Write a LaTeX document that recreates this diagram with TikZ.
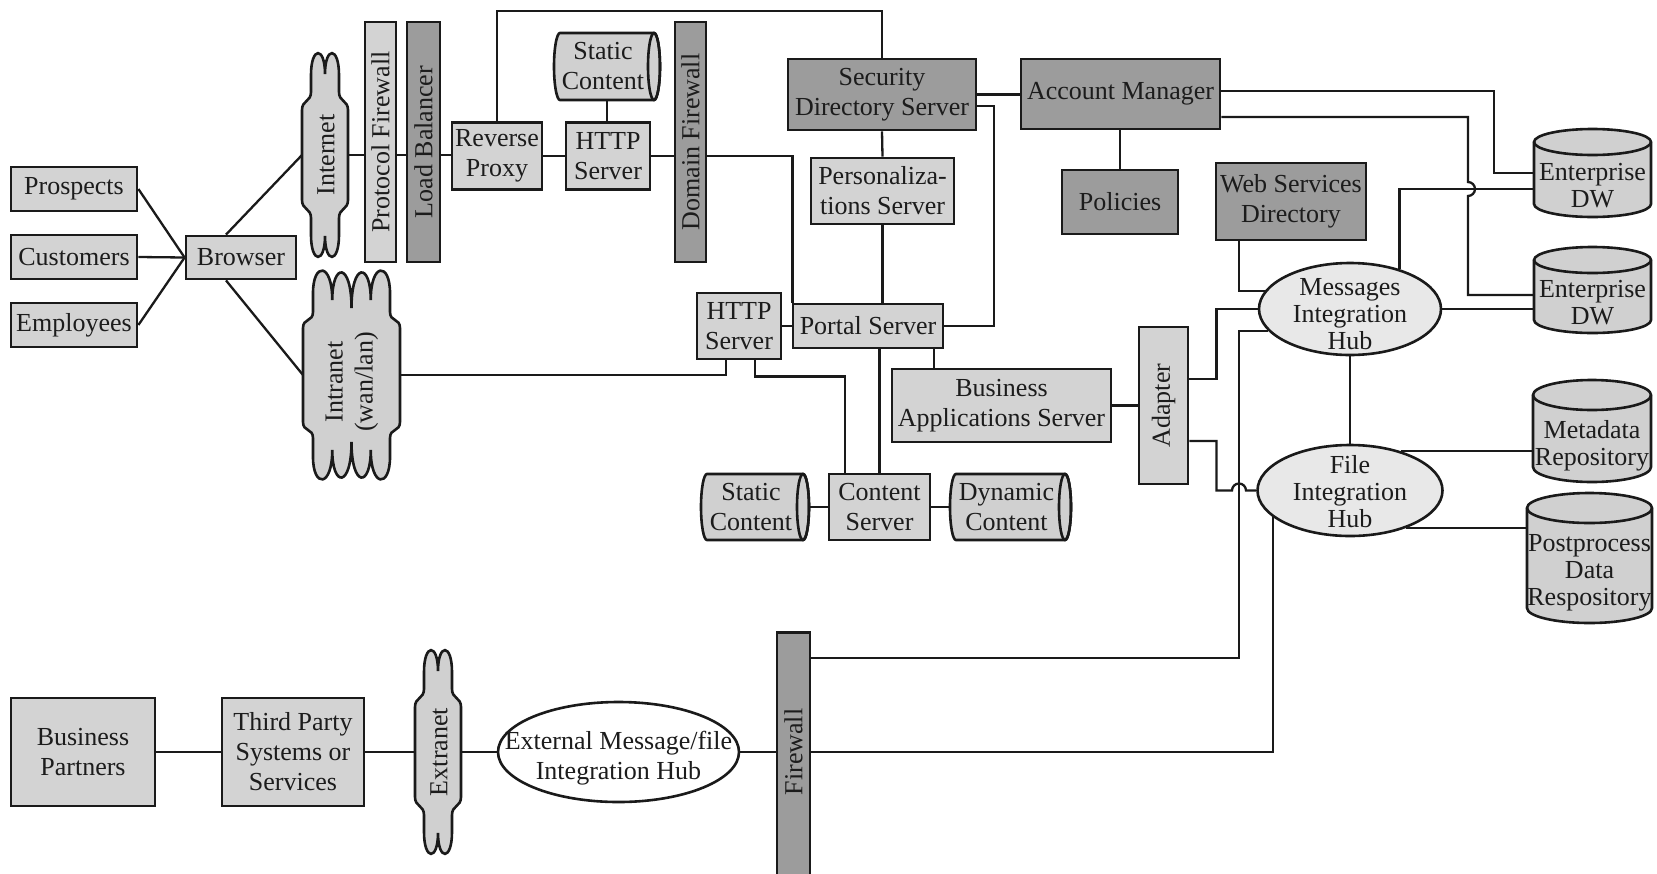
\documentclass[tikz,border=0pt]{standalone}
\usepackage{fontspec}
\usepackage{graphicx}
\setmainfont{Liberation Serif}
\usetikzlibrary{calc,shapes.geometric}
\definecolor{lightg}{HTML}{D3D3D3}
\definecolor{darkg}{HTML}{9C9C9C}
\definecolor{hubg}{HTML}{E8E8E8}
\definecolor{cylg}{HTML}{D0D0D0}
\definecolor{linec}{HTML}{1A1A1A}
\definecolor{textc}{HTML}{1C1C1C}
\newcommand\fnt{\fontsize{26pt}{30pt}\selectfont}
\newcommand\fntb{\fontsize{26pt}{27pt}\selectfont}
\tikzset{
  box/.style={draw=linec, line width=2.8pt, fill=lightg, inner sep=2pt, align=center, text=textc, font=\fnt},
  dbox/.style={box, fill=darkg},
  bar/.style={draw=linec, line width=2.8pt, inner sep=0pt, text=textc, font=\fnt},
  hub/.style={ellipse, draw=linec, line width=2.6pt, fill=hubg, inner sep=0pt},
  txt/.style={inner sep=0pt, align=center, text=textc, font=\fnt},
  txtb/.style={inner sep=0pt, align=center, text=textc, font=\fntb},
  cylst/.style={draw=linec, line width=2.6pt, fill=cylg},
  cloudst/.style={draw=linec, line width=2.6pt, fill=cylg},
  conn/.style={draw=linec, line width=2.3pt},
  ghost/.style={inner sep=0pt, outer sep=0pt}
}
% vertical cylinder: name, cx, cy, w, h, ry, text
\newcommand\vcyl[7]{%
  \filldraw[cylst] ({#2-#4/2},{#3-#5/2+#6}) -- ({#2-#4/2},{#3+#5/2-#6})
    arc[start angle=180,end angle=360,x radius={#4*0.5pt},y radius={#6*1pt}]
    -- ({#2+#4/2},{#3-#5/2+#6})
    arc[start angle=0,end angle=180,x radius={#4*0.5pt},y radius={#6*1pt}] -- cycle;
  \draw[cylst,fill=none] ({#2-#4/2},{#3-#5/2+#6})
    arc[start angle=180,end angle=360,x radius={#4*0.5pt},y radius={#6*1pt}];
  \node[ghost, minimum width={#4*1pt}, minimum height={#5*1pt}] (#1) at (#2,#3) {};
  \node[txtb] (#1t) at ({#2},{#3+#6}) {#7};
}
% horizontal cylinder: name, cx, cy, w, h, text
\newcommand\hcyl[6]{%
  \filldraw[cylst] ({#2+#4/2-6},{#3-#5/2}) -- ({#2-#4/2+6},{#3-#5/2})
    arc[start angle=90,end angle=270,x radius=6pt,y radius={#5*0.5pt}]
    -- ({#2+#4/2-6},{#3+#5/2})
    arc[start angle=270,end angle=450,x radius=6pt,y radius={#5*0.5pt}] -- cycle;
  \draw[cylst,fill=none] ({#2+#4/2-6},{#3}) ellipse[x radius=6pt,y radius={#5*0.5pt}];
  \node[ghost, minimum width={#4*1pt}, minimum height={#5*1pt}] (#1) at (#2,#3) {};
  \node[txt] (#1t) at ({#2-4},{#3}) {#6};
}
% two-lobe cloud: L R T B
\newcommand\cloudtwo[4]{%
  \filldraw[cloudst] (#1,{#3+57}) .. controls (#1,{#3+47}) and ({#1+9},{#3+49}) .. ({#1+9},{#3+39})
    -- ({#1+9},{#3+22}) .. controls ({#1+9},{#3-7}) and ({(#1+#2)/2},{#3-7}) .. ({(#1+#2)/2},{#3+21})
    .. controls ({(#1+#2)/2},{#3-7}) and ({#2-9},{#3-7}) .. ({#2-9},{#3+22})
    -- ({#2-9},{#3+39}) .. controls ({#2-9},{#3+49}) and (#2,{#3+47}) .. (#2,{#3+57})
    -- (#2,{#4-57}) .. controls (#2,{#4-47}) and ({#2-9},{#4-49}) .. ({#2-9},{#4-39})
    -- ({#2-9},{#4-22}) .. controls ({#2-9},{#4+7}) and ({(#1+#2)/2},{#4+7}) .. ({(#1+#2)/2},{#4-21})
    .. controls ({(#1+#2)/2},{#4+7}) and ({#1+9},{#4+7}) .. ({#1+9},{#4-22})
    -- ({#1+9},{#4-39}) .. controls ({#1+9},{#4-49}) and (#1,{#4-47}) .. (#1,{#4-57}) -- cycle;
}
\begin{document}
\begin{tikzpicture}[x=1pt,y=-1pt]
\useasboundingbox (0,0) rectangle (1657,873);
\fill[white] (0,0) rectangle (1657,873);
\clip (0,0) rectangle (1657,873);

% left users
\node[box, minimum width=126pt, minimum height=44pt] (prosp) at (74,189) {Prospects};
\node[box, minimum width=126pt, minimum height=44pt] (cust) at (74,257) {Customers};
\node[box, minimum width=126pt, minimum height=44pt] (empl) at (74,325) {Employees};
\node[box, minimum width=110pt, minimum height=43pt] (browser) at (241,257.5) {Browser};

% internet cloud
\cloudtwo{302}{348}{53}{257}
\node[ghost, minimum width=46pt, minimum height=204pt] (inet) at (325,155) {};
\node[txt] (inett) at (326,155) {\rotatebox{90}{Internet}};

% intranet cloud
\filldraw[cloudst] (303,328) .. controls (303,318) and (313,322) .. (313,312) -- (313,293)
  .. controls (313,262) and (332.25,262) .. (332.25,300)
  .. controls (332.25,262) and (351.5,262) .. (351.5,308)
  .. controls (351.5,262) and (370.75,262) .. (370.75,300)
  .. controls (370.75,262) and (390,262) .. (390,293)
  -- (390,312) .. controls (390,322) and (400,318) .. (400,328)
  -- (400,422) .. controls (400,432) and (390,428) .. (390,438) -- (390,457)
  .. controls (390,488) and (370.75,488) .. (370.75,450)
  .. controls (370.75,488) and (351.5,488) .. (351.5,442)
  .. controls (351.5,488) and (332.25,488) .. (332.25,450)
  .. controls (332.25,488) and (313,488) .. (313,457)
  -- (313,438) .. controls (313,428) and (303,432) .. (303,422) -- cycle;
\node[ghost, minimum width=97pt, minimum height=204pt] (intra) at (351.5,375) {};
\node[txt] (intrat) at (351.5,382) {\rotatebox{90}{\begin{tabular}{@{}c@{}}Intranet\\(wan/lan)\end{tabular}}};

% firewalls and top chain
\node[bar, fill=lightg, minimum width=31pt, minimum height=240pt] (pfw) at (380.5,142) {\rotatebox{90}{Protocol Firewall}};
\node[bar, fill=darkg, minimum width=33pt, minimum height=240pt] (lb) at (423.5,142) {\rotatebox{90}{Load Balancer}};
\node[box, minimum width=90pt, minimum height=67pt] (rproxy) at (497,156) {Reverse\\Proxy};
\hcyl{static1}{607}{66.5}{106}{67}{Static\\Content}
\node[box, minimum width=84pt, minimum height=67pt] (http1) at (608,156) {HTTP\\Server};
\node[bar, fill=darkg, minimum width=31pt, minimum height=240pt] (dfw) at (690.5,142) {\rotatebox{90}{Domain Firewall}};

% servers
\node[dbox, minimum width=188pt, minimum height=71pt] (sds) at (882,94.5) {Security\\Directory Server};
\node[box, minimum width=143pt, minimum height=66pt] (pers) at (882.5,191) {Personaliza-\\tions Server};
\node[box, minimum width=150pt, minimum height=44pt] (portal) at (868,326) {Portal Server};
\node[box, minimum width=84pt, minimum height=66pt] (http2) at (739,326) {HTTP\\Server};
\node[dbox, minimum width=199pt, minimum height=70pt] (am) at (1120.5,94) {Account Manager};
\node[dbox, minimum width=116pt, minimum height=64pt] (pol) at (1120,202) {Policies};
\node[dbox, minimum width=150pt, minimum height=77pt] (wsd) at (1291,201.5) {Web Services\\Directory};
\node[box, minimum width=219pt, minimum height=73pt] (bas) at (1001.5,405.5) {Business\\Applications Server};
\node[box, minimum width=101pt, minimum height=66pt] (content) at (879.5,507) {Content\\Server};
\hcyl{static2}{755}{507}{108}{66}{Static\\Content}
\hcyl{dynamic}{1010.5}{507}{121}{66}{Dynamic\\Content}
\node[bar, fill=lightg, minimum width=49pt, minimum height=157pt] (adapter) at (1163.5,405.5) {\rotatebox{90}{Adapter}};

% hubs and repositories
\node[hub, minimum width=182pt, minimum height=92pt] (mhub) at (1350,309) {};
\node[txtb] (mhubt) at (1350,314) {Messages\\Integration\\Hub};
\node[hub, minimum width=185pt, minimum height=91pt] (fhub) at (1350,490.5) {};
\node[txtb] (fhubt) at (1350,492) {File\\Integration\\Hub};
\vcyl{edw1}{1592.5}{173}{117}{88}{13}{Enterprise\\DW}
\vcyl{edw2}{1592.5}{290}{117}{86}{13}{Enterprise\\DW}
\vcyl{meta}{1592}{431}{118}{102}{15}{Metadata\\Repository}
\vcyl{post}{1589.5}{558}{125}{130}{15}{Postprocess\\Data\\Respository}

% bottom row
\node[box, minimum width=144pt, minimum height=108pt] (bp) at (83,752) {Business\\Partners};
\node[box, minimum width=142pt, minimum height=108pt] (tp) at (293,752) {Third Party\\Systems or\\Services};
\cloudtwo{415}{461}{650}{854}
\node[ghost, minimum width=46pt, minimum height=204pt] (extra) at (438,752) {};
\node[txt] (extrat) at (439,752) {\rotatebox{90}{Extranet}};
\node[hub, fill=white, minimum width=241pt, minimum height=100pt] (ext) at (618.5,752) {};
\node[txt] (extt) at (618.5,758) {External Message/file\\Integration Hub};
\node[bar, fill=darkg, minimum width=33pt, minimum height=260pt, anchor=north] (fw) at (793.5,631) {};
\node[txt] (fwt) at (793.5,752) {\rotatebox{90}{Firewall}};

% helper coordinates
\coordinate (topy) at (0,11);
\coordinate (xa) at (1494,0);
\coordinate (xc) at (994,0);
\coordinate (hjA) at (1468,182);
\coordinate (hjB) at (1232,490.5);
\coordinate (fwup) at (1239,658);

% connectors
\draw[conn] (prosp.east) -- (browser.west);
\draw[conn] (cust.east) -- (browser.west);
\draw[conn] (empl.east) -- (browser.west);
\draw[conn] ([xshift=-15pt]browser.north) -- (inet.west);
\draw[conn] ([xshift=-15pt]browser.south) -- (intra.west);
\draw[conn] (inet.east) -- (inet.east -| pfw.west);
\draw[conn] (inet.east -| pfw.east) -- (inet.east -| lb.west);
\draw[conn] (inet.east -| lb.east) -- (inet.east -| rproxy.west);
\draw[conn] (rproxy.east) -- (http1.west);
\draw[conn] (static1.south) -- (static1.south |- http1.north);
\draw[conn] (http1.east) -- (http1.east -| dfw.west);
\draw[conn] (http1.east -| dfw.east) -| ([xshift=1pt]portal.north west);
\draw[conn] (rproxy.north) |- (topy -| sds.north) -- (sds.north);
\draw[conn] (sds.south) -- (pers.north);
\draw[conn] (pers.south) -- (pers.south |- portal.north);
\draw[conn] ([yshift=-11.5pt]sds.east) -| (xc |- portal.east) -- (portal.east);
\draw[conn] (sds.east) -- (sds.east -| am.west);
\draw[conn] (pol.north |- am.south) -- (pol.north);
\draw[conn] ([yshift=3pt]am.east) -| (edw1.west -| xa) -- (edw1.west);
\draw[conn] (mhub.39) |- ([yshift=-16pt]edw1.west);
\draw[conn] ([yshift=-23pt]am.east) -| (hjA) arc[start angle=90,end angle=-90,radius=7pt] |- ([yshift=-5pt]edw2.west);
\draw[conn] (mhub.east) -- (mhub.east -| edw2.west);
\draw[conn] ([xshift=-52pt]wsd.south) |- (mhub.168);
\draw[conn] ([yshift=26.5pt]adapter.east) -- ++(27,0) |- (mhub.west);
\draw[conn] ([yshift=-35.5pt]adapter.east) -- ++(27,0) |- (hjB) arc[start angle=180,end angle=0,radius=7pt] -- (fhub.west);
\draw[conn] (mhub.195) -| (fwup) -- (fwup -| fw.east);
\draw[conn] (fhub.199) |- (ext.east -| fw.east);
\draw[conn] (mhub.south) -- (fhub.north);
\draw[conn] (fhub.38) -- (fhub.38 -| meta.west);
\draw[conn] (fhub.-34) -- (fhub.-34 -| post.west);
\draw[conn] (intra.east) -| ([xshift=-13pt]http2.south);
\draw[conn] ([xshift=16pt]http2.south) -- ++(0,16) -| ([xshift=-34.5pt]content.north);
\draw[conn] (http2.east) -- (portal.west);
\draw[conn] (content.north |- portal.south) -- (content.north);
\draw[conn] ([xshift=66pt]portal.south) -- ([xshift=66pt]portal.south |- bas.north);
\draw[conn] (bas.east) -- (adapter.west);
\draw[conn] (static2.east) -- (content.west);
\draw[conn] (content.east) -- (dynamic.west);
\draw[conn] (bp.east) -- (tp.west);
\draw[conn] (tp.east) -- (extra.west);
\draw[conn] (extra.east) -- (ext.west);
\draw[conn] (ext.east) -- (ext.east -| fw.west);
\end{tikzpicture}
\end{document}
